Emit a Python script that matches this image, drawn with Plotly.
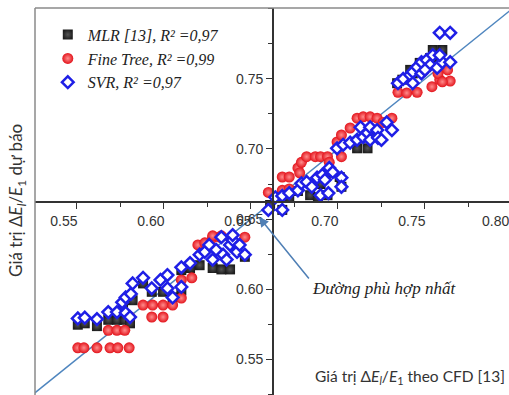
import plotly.graph_objects as go

# ---- data ----
mlr_x = [0.5505, 0.5545, 0.5615, 0.568, 0.573, 0.5775, 0.5805, 0.5765, 0.582, 0.588,
         0.593, 0.5995, 0.605, 0.610, 0.610, 0.615, 0.6205, 0.628, 0.633, 0.638, 0.6465,
         0.661, 0.668, 0.668, 0.672, 0.677, 0.684, 0.6885, 0.690, 0.694, 0.702, 0.695, 0.701,
         0.711, 0.717, 0.720, 0.734, 0.737, 0.7415, 0.743, 0.747, 0.753, 0.7545, 0.7585, 0.760]
mlr_y = [0.5745, 0.5755, 0.5735, 0.578, 0.578, 0.578, 0.5755, 0.5885, 0.592, 0.604,
         0.598, 0.598, 0.594, 0.599, 0.6135, 0.615, 0.617, 0.615, 0.614, 0.614, 0.623,
         0.660, 0.6565, 0.6655, 0.665, 0.670, 0.667, 0.6655, 0.675, 0.667, 0.673, 0.683, 0.680,
         0.7005, 0.7005, 0.710, 0.747, 0.7495, 0.7565, 0.754, 0.7615, 0.765, 0.7707, 0.7657, 0.7707]

tree_x = [0.5505, 0.554, 0.5615, 0.569, 0.5735, 0.580, 0.568, 0.573, 0.5775, 0.5805,
          0.593, 0.5995, 0.588, 0.5935, 0.5995, 0.605, 0.610, 0.610, 0.616,
          0.6195, 0.6235, 0.628, 0.632, 0.638, 0.6465, 0.628, 0.633,
          0.660, 0.668, 0.672, 0.668, 0.672, 0.677, 0.679, 0.682, 0.687, 0.690, 0.694,
          0.695, 0.678, 0.6995, 0.702, 0.702, 0.707, 0.711, 0.7145, 0.7185, 0.7225,
          0.726, 0.731, 0.7345, 0.7395, 0.7455, 0.754, 0.7585, 0.7645, 0.763, 0.7575, 0.760]
tree_y = [0.558, 0.558, 0.558, 0.558, 0.558, 0.558, 0.5705, 0.5705, 0.5705, 0.580,
          0.580, 0.580, 0.5885, 0.5885, 0.5885, 0.5885, 0.5935, 0.6065, 0.608,
          0.6315, 0.633, 0.6365, 0.637, 0.6365, 0.637, 0.638, 0.638,
          0.669, 0.680, 0.680, 0.6705, 0.6715, 0.6865, 0.6905, 0.6945, 0.6945, 0.6945, 0.6945,
          0.6905, 0.683, 0.705, 0.710, 0.6945, 0.715, 0.722, 0.723, 0.723, 0.722,
          0.719, 0.722, 0.7405, 0.740, 0.7405, 0.7445, 0.7495, 0.7485, 0.7565, 0.754, 0.748]

svr_x = [0.5505, 0.5545, 0.5615, 0.568, 0.573, 0.578, 0.5805, 0.576, 0.578, 0.581, 0.582,
         0.588, 0.593, 0.598, 0.602, 0.605, 0.610, 0.602, 0.610, 0.615,
         0.6205, 0.6235, 0.626, 0.630, 0.634, 0.638, 0.6395, 0.642, 0.6465, 0.633, 0.6395,
         0.6435, 0.636, 0.628,
         0.660, 0.668, 0.664, 0.668, 0.672, 0.677, 0.679, 0.682, 0.685, 0.688, 0.691, 0.6925,
         0.695, 0.697, 0.690, 0.6945, 0.702, 0.702,
         0.6995, 0.703, 0.707, 0.711, 0.713, 0.7145, 0.717, 0.7185, 0.7185, 0.7225, 0.723,
         0.725, 0.728, 0.731,
         0.7345, 0.7375, 0.7415, 0.743, 0.7455, 0.748, 0.751, 0.753, 0.7545, 0.757, 0.760,
         0.7645, 0.7585, 0.743, 0.748, 0.750, 0.7585, 0.7645]
svr_y = [0.579, 0.5795, 0.5785, 0.5835, 0.5835, 0.583, 0.580, 0.5905, 0.594, 0.5965, 0.604,
         0.608, 0.6005, 0.6065, 0.610, 0.594, 0.6015, 0.6005, 0.6155, 0.6185,
         0.6245, 0.6265, 0.6315, 0.628, 0.6245, 0.6315, 0.635, 0.6265, 0.6245, 0.637, 0.6385,
         0.6315, 0.621, 0.621,
         0.6565, 0.6565, 0.6655, 0.6665, 0.6685, 0.6705, 0.6755, 0.6765, 0.673, 0.6795, 0.6815, 0.678,
         0.6865, 0.6835, 0.667, 0.6685, 0.6795, 0.673,
         0.7005, 0.703, 0.7045, 0.7065, 0.7155, 0.7085, 0.7115, 0.7065, 0.7155, 0.7135, 0.708,
         0.7065, 0.719, 0.7135,
         0.747, 0.750, 0.753, 0.755, 0.7585, 0.762, 0.7635, 0.760, 0.767, 0.758, 0.762,
         0.762, 0.767, 0.747, 0.754, 0.7565, 0.783, 0.783]

fit_x = [0.52, 0.80]
fit_y = [0.52, 0.80]

names = ["MLR [13], R² =0,97", "Fine Tree, R² =0,99", "SVR, R² =0,97"]
tick_vals = [0.55, 0.60, 0.65, 0.70, 0.75, 0.80]
ytick_vals = [0.55, 0.60, 0.65, 0.70, 0.75]
edge_tick = 0.80  # x tick whose label sits at the cropped right edge

X_RANGE = [0.5259, 0.7983]
Y_RANGE = [0.5243, 0.8007]
X_CROSS = 0.6626
Y_CROSS = 0.6621
LABEL_SHIFT = -13

fig = go.Figure()
fig.add_trace(go.Scatter(x=fit_x, y=fit_y, mode="lines", showlegend=False,
                         line=dict(color="#4f86bf", width=1.5), hoverinfo="skip"))
fig.add_trace(go.Scatter(x=mlr_x, y=mlr_y, mode="markers", name=names[0],
                         marker=dict(symbol="square", size=10, color="#1e1e1e",
                                     gradient=dict(type="radial", color="#555555"))))
fig.add_trace(go.Scatter(x=tree_x, y=tree_y, mode="markers", name=names[1],
                         marker=dict(symbol="circle", size=11, color="#e3141c",
                                     gradient=dict(type="radial", color="#ff8c8c"))))
fig.add_trace(go.Scatter(x=svr_x, y=svr_y, mode="markers", name=names[2],
                         marker=dict(symbol="diamond", size=9, color="white",
                                     line=dict(color="#1f1fe6", width=2.5))))

tick_font = dict(family="Liberation Sans, Arial", size=14, color="#333333")
ypos = (Y_CROSS - Y_RANGE[0]) / (Y_RANGE[1] - Y_RANGE[0])
xpos = (X_CROSS - X_RANGE[0]) / (X_RANGE[1] - X_RANGE[0])
edge_paper_x = (edge_tick - X_RANGE[0]) / (X_RANGE[1] - X_RANGE[0])

fig.update_layout(
    width=509, height=395,
    margin=dict(l=35, r=0, t=8, b=0),
    paper_bgcolor="white", plot_bgcolor="white",
    xaxis=dict(range=X_RANGE, anchor="free", position=ypos, showgrid=False, zeroline=False,
               showline=True, linecolor="#333333", linewidth=1.5,
               ticks="outside", ticklen=6, tickwidth=1.2, tickcolor="#333333",
               tickvals=tick_vals, tickformat=".2f", tickfont=tick_font,
               ticklabelshift=LABEL_SHIFT,
               minor=dict(ticks="outside", ticklen=4, tickcolor="#333333", dtick=0.025, tick0=0.55)),
    yaxis=dict(range=Y_RANGE, anchor="free", position=xpos, showgrid=False, zeroline=False,
               showline=True, linecolor="#333333", linewidth=1.5,
               ticks="outside", ticklen=6, tickwidth=1.2, tickcolor="#333333",
               tickvals=ytick_vals, tickformat=".2f", tickfont=tick_font,
               minor=dict(ticks="outside", ticklen=4, tickcolor="#333333", dtick=0.025, tick0=0.55)),
    legend=dict(x=0.027, y=0.975, xanchor="left", yanchor="top", bgcolor="rgba(0,0,0,0)",
                font=dict(family="Liberation Serif", size=16, color="#222222", style="italic"),
                tracegroupgap=0),
    shapes=[
        dict(type="line", xref="paper", yref="paper", x0=0, x1=0, y0=0, y1=1,
             line=dict(color="#8a8a8a", width=1.5)),
        dict(type="line", xref="paper", yref="paper", x0=0, x1=1, y0=1, y1=1,
             line=dict(color="#8a8a8a", width=1.5)),
    ],
    annotations=[
        dict(text="Giá trị Δ<i>E</i><sub><i>l</i></sub>/<i>E</i><sub>1</sub> dự báo",
             xref="paper", yref="paper", x=-0.038, y=0.504, xanchor="center", yanchor="middle",
             textangle=-90, showarrow=False,
             font=dict(family="Lato", size=17, color="#333333")),
        dict(text="Giá trị Δ<i>E</i><sub><i>l</i></sub>/<i>E</i><sub>1</sub> theo CFD [13]",
             xref="paper", yref="paper", x=0.791, y=0.0465, xanchor="center", yanchor="middle",
             showarrow=False,
             font=dict(family="Lato", size=15.5, color="#333333")),
        dict(text="Đường phù hợp nhất", xref="paper", yref="paper", x=0.736, y=0.274,
             xanchor="center", yanchor="middle", showarrow=False,
             font=dict(family="Liberation Serif", size=17, color="#222222", style="italic")),
        dict(text="", x=0.6546, y=0.6514, ax=0.684, ay=0.6064, xref="x", yref="y",
             axref="x", ayref="y", showarrow=True, arrowhead=2, arrowsize=1.3,
             arrowwidth=1.5, arrowcolor="#4f7fb5"),
        dict(text=f"{edge_tick:.2f}", xref="paper", yref="y", x=edge_paper_x, y=Y_CROSS,
             xanchor="center", yanchor="top", xshift=LABEL_SHIFT - 3, yshift=-9,
             showarrow=False, font=tick_font),
    ],
)

fig.write_html("out.html")
